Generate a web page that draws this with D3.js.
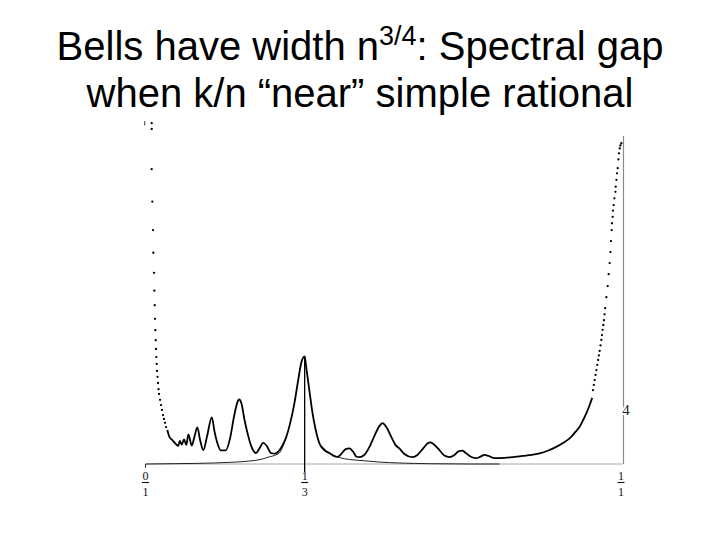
<!DOCTYPE html>
<html><head><meta charset="utf-8">
<script src="https://cdn.jsdelivr.net/npm/d3@7"></script>
<style>body{margin:0;background:#fff}</style>
</head><body><svg id="c" width="720" height="540"></svg>
<script>
// ---- data ----
const titleLine1 = ["Bells have width n", "3/4", ": Spectral gap"];
const titleLine2 = "when k/n “near” simple rational";
const xTickValues = [0, 1/3, 1];
const xTickNumerators = ["0", "1", "1"];
const xTickDenominators = ["1", "3", "1"];
const rightAxisLabel = "4";
const rightAxisLabelValue = 0.17;

// main solid curve (k/n, gap)
const curveX = [0.0457,0.0503,0.0562,0.0633,0.0688,0.0717,0.0759,0.0807,0.0856,0.0898,0.0969,0.1028,0.1086,0.1143,0.1212,0.1290,0.1388,0.1447,0.1506,0.1577,0.1682,0.1772,0.1856,0.1919,0.1961,0.2013,0.2066,0.2135,0.2213,0.2311,0.2391,0.2464,0.2538,0.2626,0.2706,0.2785,0.2863,0.2947,0.3031,0.3115,0.3198,0.3261,0.3333,0.3366,0.3408,0.3450,0.3498,0.3565,0.3639,0.3744,0.3849,0.3932,0.4023,0.4100,0.4184,0.4268,0.4352,0.4415,0.4478,0.4583,0.4688,0.4792,0.4897,0.4966,0.5044,0.5149,0.5233,0.5317,0.5422,0.5596,0.5694,0.5820,0.5904,0.5967,0.6051,0.6156,0.6260,0.6365,0.6470,0.6554,0.6632,0.6701,0.6806,0.6925,0.7016,0.7099,0.7183,0.7309,0.7519,0.7729,0.7903,0.8085,0.8253,0.8421,0.8603,0.8777,0.8882,0.8987,0.9092,0.9176,0.9232,0.9302,0.9354];
const curveY = [0.105,0.083,0.074,0.062,0.056,0.071,0.060,0.076,0.059,0.091,0.057,0.086,0.113,0.074,0.043,0.086,0.144,0.099,0.064,0.042,0.042,0.080,0.148,0.188,0.199,0.185,0.142,0.096,0.056,0.034,0.049,0.065,0.056,0.034,0.032,0.039,0.056,0.083,0.127,0.185,0.259,0.312,0.332,0.299,0.253,0.207,0.157,0.105,0.065,0.043,0.034,0.026,0.022,0.031,0.045,0.048,0.037,0.023,0.021,0.028,0.052,0.086,0.117,0.126,0.114,0.083,0.059,0.048,0.031,0.021,0.028,0.049,0.063,0.067,0.059,0.043,0.026,0.021,0.028,0.039,0.041,0.035,0.023,0.018,0.023,0.028,0.025,0.018,0.019,0.022,0.025,0.028,0.033,0.041,0.053,0.068,0.079,0.096,0.115,0.139,0.156,0.182,0.204];

// steep tails drawn as separate samples
const leftTailX = [0.0130,0.0130,0.0130,0.0143,0.0157,0.0164,0.0178,0.0185,0.0193,0.0199,0.0206,0.0214,0.0220,0.0227,0.0235,0.0241,0.0252,0.0262,0.0273,0.0283,0.0304,0.0325,0.0346,0.0367,0.0388,0.0409,0.0430];
const leftTailY = [1.052,1.034,0.910,0.810,0.722,0.652,0.590,0.535,0.490,0.448,0.413,0.382,0.355,0.330,0.309,0.287,0.269,0.250,0.231,0.216,0.198,0.182,0.167,0.151,0.139,0.127,0.114];
const rightTailX = [0.9371,0.9389,0.9407,0.9425,0.9442,0.9461,0.9480,0.9495,0.9511,0.9529,0.9547,0.9560,0.9574,0.9588,0.9601,0.9614,0.9627,0.9652,0.9679,0.9700,0.9721,0.9736,0.9748,0.9763,0.9769,0.9784,0.9790,0.9805,0.9820,0.9841,0.9847,0.9862,0.9874,0.9889,0.9904,0.9916,0.9931,0.9945,0.9966];
const rightTailY = [0.228,0.244,0.259,0.275,0.290,0.306,0.321,0.335,0.349,0.366,0.383,0.398,0.414,0.429,0.444,0.462,0.481,0.515,0.549,0.586,0.620,0.654,0.688,0.722,0.743,0.763,0.782,0.799,0.820,0.840,0.856,0.877,0.897,0.913,0.940,0.959,0.974,0.983,0.990];

// lower envelope under the 1/3 bell
const envLeftX = [0.0000,0.0598,0.1122,0.1751,0.2171,0.2443,0.2590,0.2731,0.2821,0.2905];
const envLeftY = [0.000,0.001,0.002,0.005,0.009,0.015,0.022,0.028,0.037,0.065];
const envRightX = [0.3681,0.3849,0.4059,0.4268,0.4583,0.4897,0.5317,0.5946,0.6785,0.7414];
const envRightY = [0.056,0.034,0.020,0.014,0.010,0.006,0.003,0.001,0.000,0.000];

// ---- drawing ----
const svg = d3.select("#c");
const x = d3.scaleLinear().domain([0, 1]).range([145.5, 623]);
const y = d3.scaleLinear().domain([0, 1]).range([464, 140]);

// title
const titleFont = "Liberation Sans, Arial, sans-serif";
const t1 = svg.append("text").attr("x", 360).attr("y", 60).attr("text-anchor", "middle")
  .style("font-family", titleFont).style("font-size", "40px").attr("fill", "#000");
t1.append("tspan").text(titleLine1[0]);
t1.append("tspan").text(titleLine1[1]).style("font-size", "27px").attr("dy", -15);
t1.append("tspan").text(titleLine1[2]).attr("dy", 15);
svg.append("text").attr("x", 360).attr("y", 107).attr("text-anchor", "middle")
  .style("font-family", titleFont).style("font-size", "40px").attr("fill", "#000")
  .text(titleLine2);

// baseline (x axis)
svg.append("line").attr("x1", x(0)).attr("x2", x(1)).attr("y1", y(0)).attr("y2", y(0))
  .attr("stroke", "#a8a8a8").attr("stroke-width", 1.2);

// right vertical line at x = 1
svg.append("line").attr("x1", x(1) + 0.5).attr("x2", x(1) + 0.5).attr("y1", y(1.012)).attr("y2", y(0))
  .attr("stroke", "#8a8a8a").attr("stroke-width", 1.2);
svg.append("text").attr("x", x(1) + 3).attr("y", y(rightAxisLabelValue) + 6).attr("text-anchor", "middle")
  .style("font-family", "Liberation Serif, serif").style("font-size", "15px")
  .attr("fill", "#222").attr("stroke", "#fff").attr("stroke-width", 4).style("paint-order", "stroke")
  .text(rightAxisLabel);

// left ticks
svg.append("line").attr("x1", x(0)).attr("x2", x(0)).attr("y1", y(0)).attr("y2", y(0) + 4)
  .attr("stroke", "#333").attr("stroke-width", 1);
svg.append("line").attr("x1", x(0) - 0.8).attr("x2", x(0) - 0.8).attr("y1", y(1.058)).attr("y2", y(1.045))
  .attr("stroke", "#333").attr("stroke-width", 1);

// vertical marker at 1/3
const peakIdx = curveX.indexOf(0.3333);
svg.append("line").attr("x1", x(1/3)).attr("x2", x(1/3)).attr("y1", y(curveY[peakIdx])).attr("y2", y(0) + 8)
  .attr("stroke", "#000").attr("stroke-width", 1.3);

// fraction tick labels
const labelFont = "Liberation Serif, DejaVu Serif, serif";
xTickValues.forEach((v, i) => {
  const cx = x(v) - (v === 1 ? 2 : 0);
  svg.append("text").attr("x", cx).attr("y", 480).attr("text-anchor", "middle")
    .style("font-family", labelFont).style("font-size", "12px").attr("fill", "#111").text(xTickNumerators[i]);
  svg.append("line").attr("x1", cx - 3.5).attr("x2", cx + 3.5).attr("y1", 482.5).attr("y2", 482.5)
    .attr("stroke", "#111").attr("stroke-width", 1.1);
  svg.append("text").attr("x", cx).attr("y", 496).attr("text-anchor", "middle")
    .style("font-family", labelFont).style("font-size", "12px").attr("fill", "#111").text(xTickDenominators[i]);
});

// envelope
const envLine = d3.line().x(d => x(d[0])).y(d => y(d[1])).curve(d3.curveMonotoneX);
svg.append("path").attr("d", envLine(d3.zip(envLeftX, envLeftY)))
  .attr("fill", "none").attr("stroke", "#222").attr("stroke-width", 1);
svg.append("path").attr("d", envLine(d3.zip(envRightX, envRightY)))
  .attr("fill", "none").attr("stroke", "#222").attr("stroke-width", 1);

// main curve
const line = d3.line().x(d => x(d[0])).y(d => y(d[1])).curve(d3.curveMonotoneX);
svg.append("path").attr("d", line(d3.zip(curveX, curveY)))
  .attr("fill", "none").attr("stroke", "#000").attr("stroke-width", 1.8).attr("stroke-linejoin", "round");

// tail samples
svg.append("g").selectAll("circle").data(d3.zip(leftTailX, leftTailY).concat(d3.zip(rightTailX, rightTailY)))
  .join("circle").attr("cx", d => x(d[0])).attr("cy", d => y(d[1])).attr("r", 1.15).attr("fill", "#000");
</script>
</body></html>
